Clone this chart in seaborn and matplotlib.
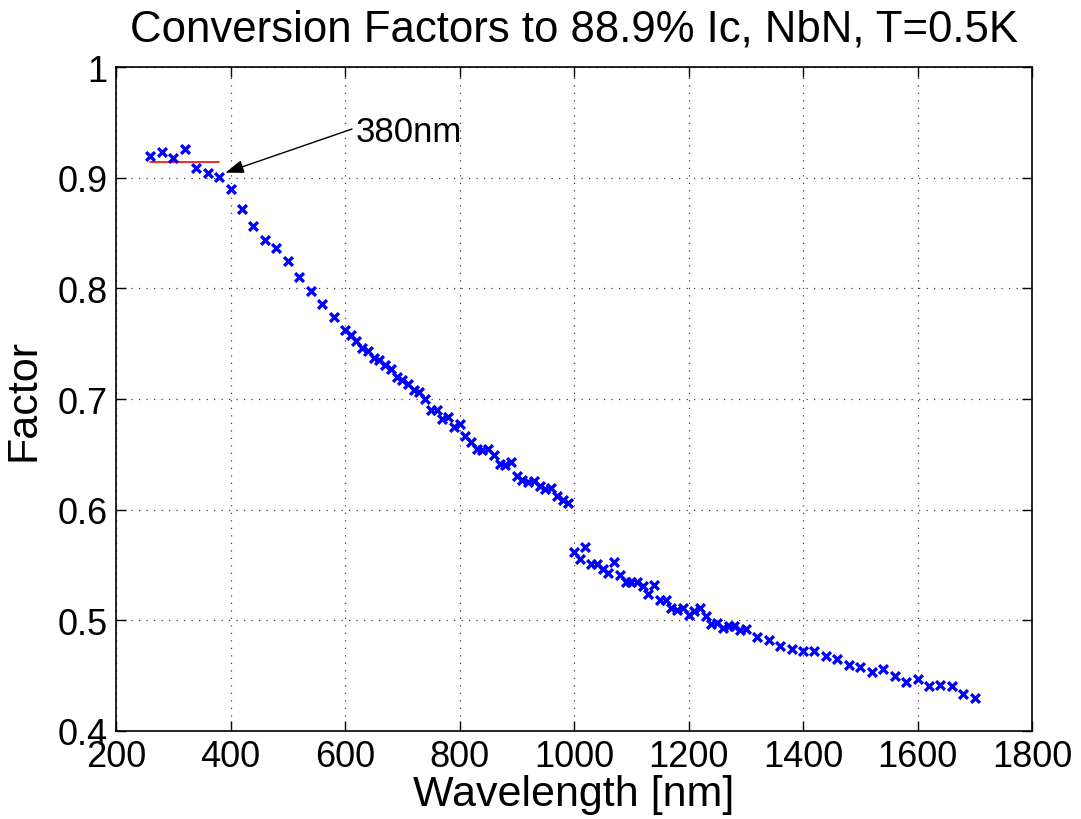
import matplotlib
matplotlib.use("Agg")
import matplotlib.pyplot as plt
import seaborn as sns
import numpy as np
import pandas as pd

# Conversion factors measured across the spectrum (wavelength in nm)
wl_uv = [260, 280, 300, 320, 340, 360, 380, 400, 420, 440, 460, 480,
         500, 520, 540, 560, 580, 600]
factor_uv = [0.920, 0.923, 0.918, 0.926, 0.909, 0.904, 0.901, 0.890, 0.872,
             0.856, 0.844, 0.836, 0.825, 0.810, 0.798, 0.786, 0.774, 0.762]

wl_vis = [610, 620, 630, 640, 650, 660, 670, 680, 690, 700, 710, 720, 730,
          740, 750, 760, 770, 780, 790, 800, 810, 820, 830, 840, 850, 860,
          870, 880, 890, 900, 910, 920, 930, 940, 950, 960, 970, 980, 990]
factor_vis = [0.758, 0.752, 0.746, 0.743, 0.737, 0.735, 0.731, 0.727, 0.720,
              0.717, 0.714, 0.708, 0.706, 0.700, 0.690, 0.690, 0.682, 0.684,
              0.675, 0.677, 0.667, 0.661, 0.655, 0.654, 0.655, 0.649, 0.641,
              0.640, 0.643, 0.630, 0.627, 0.625, 0.626, 0.621, 0.619, 0.620,
              0.612, 0.609, 0.606]

wl_nir = [1000, 1010, 1020, 1030, 1040, 1050, 1060, 1070, 1080, 1090, 1100,
          1110, 1120, 1130, 1140, 1150, 1160, 1170, 1180, 1190, 1200, 1210,
          1220, 1230, 1240, 1250, 1260, 1270, 1280, 1290, 1300]
factor_nir = [0.562, 0.555, 0.566, 0.551, 0.551, 0.546, 0.543, 0.553, 0.541,
              0.535, 0.535, 0.535, 0.531, 0.524, 0.532, 0.518, 0.518, 0.511,
              0.509, 0.511, 0.505, 0.508, 0.511, 0.504, 0.497, 0.498, 0.493,
              0.495, 0.495, 0.491, 0.492]

wl_ir = [1320, 1340, 1360, 1380, 1400, 1420, 1440, 1460, 1480, 1500, 1520,
         1540, 1560, 1580, 1600, 1620, 1640, 1660, 1680, 1700]
factor_ir = [0.485, 0.482, 0.477, 0.474, 0.472, 0.472, 0.468, 0.465, 0.460,
             0.458, 0.453, 0.456, 0.450, 0.444, 0.447, 0.441, 0.442, 0.441,
             0.433, 0.430]

x_ticks = [200, 400, 600, 800, 1000, 1200, 1400, 1600, 1800]
y_ticks = [0.4, 0.5, 0.6, 0.7, 0.8, 0.9, 1.0]
y_tick_labels = ["0.4", "0.5", "0.6", "0.7", "0.8", "0.9", "1"]

# plateau below 380 nm: mean of the flat part
plateau_wl = [260, 380]
plateau_n = 7

df = pd.DataFrame({
    "Wavelength": wl_uv + wl_vis + wl_nir + wl_ir,
    "Factor": factor_uv + factor_vis + factor_nir + factor_ir,
})
plateau_level = float(np.mean(factor_uv[:plateau_n]))

sns.set_style("white")
plt.rcParams["font.family"] = ["Liberation Sans", "DejaVu Sans"]
plt.rcParams.update({
    "text.color": "black",
    "axes.labelcolor": "black",
    "xtick.color": "black",
    "ytick.color": "black",
})

fig = plt.figure(figsize=(10.81, 8.2), dpi=100)
ax = fig.add_axes([116 / 1081, 1 - 732 / 820, (1032 - 116) / 1081, (732 - 68) / 820])

sns.scatterplot(data=df, x="Wavelength", y="Factor", marker="x", color="#0000ff",
                s=40, linewidth=2.4, ax=ax, zorder=3, legend=False)
sns.lineplot(x=plateau_wl, y=[plateau_level, plateau_level], color="#ff0000",
             linewidth=1.2, ax=ax, zorder=2)

ax.annotate("380nm", xy=(391, 0.9045), xytext=(618, 0.942),
            fontsize=25, ha="left", va="center", color="black",
            arrowprops=dict(arrowstyle="-|>,head_length=0.45,head_width=0.16",
                            color="black", lw=1, shrinkA=0, shrinkB=0,
                            relpos=(0, 0.6)))

ax.set_xlim(200, 1800)
ax.set_ylim(0.4, 1.0)
ax.set_xticks(x_ticks)
ax.set_xticklabels([str(t) for t in x_ticks])
ax.set_yticks(y_ticks)
ax.set_yticklabels(y_tick_labels)

ax.grid(True, linestyle=(0, (1, 5)), color="0.25", linewidth=0.9)
ax.set_axisbelow(True)
ax.tick_params(direction="in", length=7, width=1, top=True, right=True,
               bottom=True, left=True, labelsize=26, pad=6, colors="black")
for sp in ax.spines.values():
    sp.set_visible(True)
    sp.set_color("black")
    sp.set_linewidth(1.2)

ax.set_title("Conversion Factors to 88.9% Ic, NbN, T=0.5K", fontsize=31.5,
             pad=19, color="black")
ax.set_xlabel("Wavelength [nm]", fontsize=31, labelpad=0)
ax.set_ylabel("Factor", fontsize=31, labelpad=10)

fig.savefig("out.png", dpi=100, facecolor="white")
